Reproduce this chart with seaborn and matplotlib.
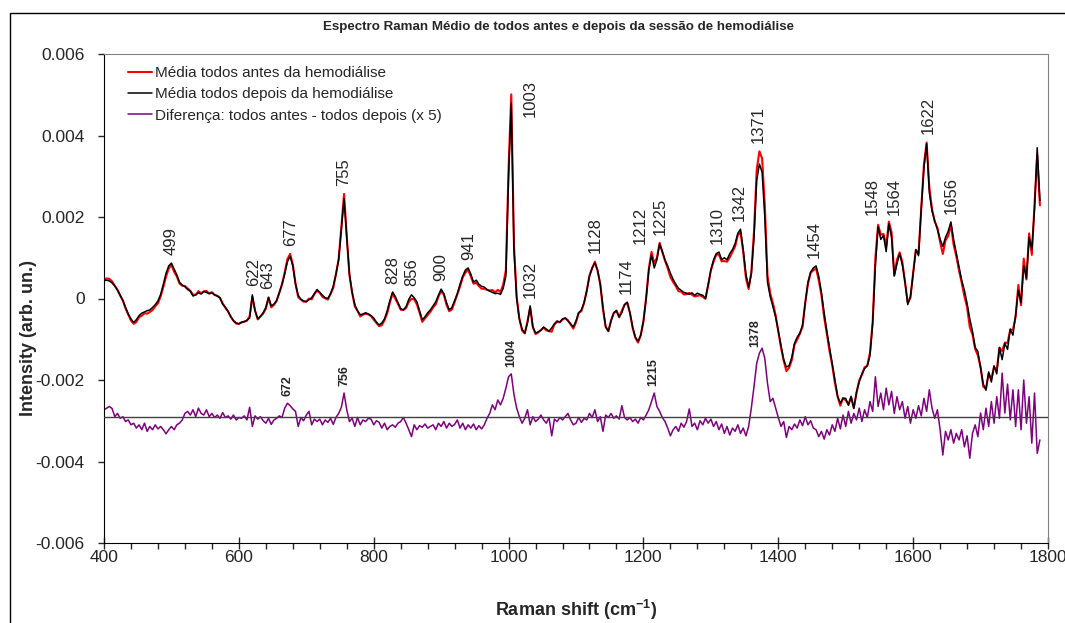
import numpy as np
import pandas as pd
import matplotlib.pyplot as plt
from matplotlib.patches import Rectangle
from matplotlib.ticker import MultipleLocator, FixedLocator, FixedFormatter
import seaborn as sns

# Deslocamento Raman (cm-1), um ponto a cada 4 cm-1
deslocamento = np.arange(400, 1789, 4)

# Espectro médio depois da hemodiálise (unidades de 1e-5)
depois = [
    44, 45, 43, 38, 31, 20, 8, -5, -22, -38, -50, -59, -52, -42, -36, -33, -30, -28, -22, -15, -6, 10, 35, 62, 80,
    87, 72, 58, 40, 33, 29, 22, 18, 6, 9, 14, 11, 17, 15, 12, 14, 9, 6, 2, -14, -22, -32, -44, -55, -60,
    -62, -58, -57, -53, -48, 9, -30, -50, -44, -35, -22, 3, -18, -14, -5, 14, 35, 60, 90, 104, 80, 35, 8, -2, -6,
    -8, -3, 2, 12, 22, 15, 8, 2, 0, 12, 30, 60, 95, 170, 245, 150, 60, 15, -15, -30, -40, -38, -35, -38, -42,
    -48, -58, -65, -60, -50, -30, -5, 16, 5, -10, -25, -28, -20, -2, 9, 2, -8, -30, -52, -45, -35, -28, -18, -8, 8,
    23, 12, -10, -28, -22, -5, 12, 35, 55, 70, 75, 60, 40, 45, 35, 30, 28, 22, 18, 15, 12, 13, 10, 25, 55,
    300, 480, 120, 0, -50, -75, -85, -60, -18, -70, -85, -82, -78, -70, -75, -80, -72, -62, -55, -58, -50, -48, -55, -62, -70,
    -55, -35, -28, -10, 20, 55, 75, 87, 70, 35, -20, -70, -80, -55, -35, -30, -45, -35, -15, -9, -35, -70, -95, -105, -90,
    -55, 0, 70, 107, 75, 95, 134, 115, 95, 80, 62, 47, 35, 25, 20, 15, 13, 10, 14, 8, 13, 10, 8, 0, 35,
    70, 95, 110, 114, 95, 100, 95, 110, 120, 135, 160, 170, 120, 60, 28, 60, 150, 290, 330, 310, 200, 40, 5, -20, -45,
    -80, -115, -150, -168, -165, -145, -110, -95, -85, -65, -10, 40, 65, 75, 80, 55, 15, -35, -80, -120, -160, -200, -240, -257, -245,
    -245, -262, -240, -270, -230, -205, -185, -172, -165, -140, -60, 80, 176, 145, 155, 115, 183, 150, 55, 85, 110, 82, 40, -15, 5,
    60, 120, 105, 220, 320, 380, 260, 215, 190, 170, 145, 128, 150, 165, 188, 145, 112, 80, 45, 20, -12, -50, -80, -120, -130,
    -170, -210, -225, -180, -205, -165, -185, -120, -150, -110, -125, -75, -90, -40, 20, -10, 80, 50, 150, 120, 220, 370, 240,
]

# Diferença (antes - depois) x 5, desenhada em torno da linha de referência (unidades de 1e-5)
diferenca = [
    -273, -269, -265, -270, -290, -282, -294, -290, -302, -298, -310, -306, -318, -310, -322, -306, -326, -314, -322, -310, -320, -314, -322, -332, -322,
    -314, -322, -310, -306, -298, -282, -277, -286, -273, -290, -269, -282, -286, -273, -290, -282, -292, -286, -294, -280, -292, -288, -296, -286, -298,
    -292, -294, -288, -298, -267, -314, -288, -296, -290, -300, -306, -294, -309, -298, -294, -288, -292, -269, -257, -263, -271, -277, -314, -292, -300,
    -286, -277, -310, -296, -302, -296, -310, -298, -304, -294, -309, -292, -282, -267, -232, -273, -302, -294, -314, -292, -310, -298, -302, -294, -296,
    -310, -300, -304, -318, -306, -322, -314, -310, -316, -306, -302, -292, -306, -322, -339, -310, -322, -312, -316, -308, -318, -314, -310, -322, -306,
    -314, -302, -318, -306, -314, -309, -298, -318, -306, -322, -310, -318, -308, -322, -312, -320, -310, -294, -282, -261, -273, -249, -261, -245, -220,
    -192, -185, -236, -269, -290, -306, -294, -273, -310, -290, -302, -296, -286, -298, -306, -292, -337, -296, -302, -292, -298, -290, -282, -298, -310,
    -306, -292, -304, -294, -298, -282, -292, -273, -302, -290, -326, -286, -292, -282, -294, -288, -296, -263, -292, -298, -292, -302, -296, -306, -292,
    -298, -286, -273, -253, -232, -265, -277, -292, -302, -318, -337, -322, -314, -326, -306, -316, -302, -271, -314, -306, -322, -300, -310, -294, -306,
    -296, -314, -302, -322, -308, -331, -314, -335, -318, -326, -310, -331, -318, -337, -314, -269, -216, -159, -134, -122, -147, -208, -253, -245, -269,
    -292, -314, -302, -341, -314, -322, -308, -318, -298, -312, -290, -310, -300, -318, -322, -339, -326, -345, -322, -335, -310, -326, -294, -320, -286,
    -314, -277, -306, -282, -298, -269, -302, -273, -292, -253, -277, -192, -265, -232, -273, -220, -261, -228, -282, -241, -273, -253, -294, -265, -306,
    -273, -294, -263, -288, -245, -277, -224, -269, -294, -273, -322, -384, -326, -347, -322, -355, -331, -347, -322, -364, -337, -392, -331, -310, -339,
    -281, -322, -269, -314, -253, -306, -241, -294, -183, -281, -210, -298, -224, -314, -224, -322, -200, -306, -241, -355, -232, -380, -347,
]

linha_base = -290  # zero da curva de diferença (unidades de 1e-5)

picos = [499, 622, 643, 677, 755, 828, 856, 900, 941, 1003, 1032, 1128, 1174,
         1212, 1225, 1310, 1342, 1371, 1454, 1548, 1564, 1622, 1656]
picos_dif = [672, 756, 1004, 1215, 1378]

depois = np.array(depois) * 1e-5
diferenca = np.array(diferenca) * 1e-5
base = linha_base * 1e-5
# a diferença vale (antes - depois) x 5, logo o espectro "antes" sai dela
antes = depois + (diferenca - base) / 5

df = pd.DataFrame({"shift": deslocamento, "antes": antes,
                   "depois": depois, "diferenca": diferenca})

sns.set_style("white")
plt.rcParams["font.family"] = ["Liberation Sans", "DejaVu Sans"]
plt.rcParams["mathtext.fontset"] = "custom"
plt.rcParams["mathtext.rm"] = "Liberation Sans"
plt.rcParams["mathtext.bf"] = "Liberation Sans:bold"

fig = plt.figure(figsize=(10.65, 6.23), dpi=100)
ax = fig.add_axes([104 / 1065, 1 - 543 / 623, 944 / 1065, 489 / 623])

sns.lineplot(data=df, x="shift", y="antes", ax=ax, color="#FF0000", lw=1.5,
             estimator=None, label="Média todos antes da hemodiálise")
sns.lineplot(data=df, x="shift", y="depois", ax=ax, color="black", lw=1.1,
             estimator=None, label="Média todos depois da hemodiálise")
sns.lineplot(data=df, x="shift", y="diferenca", ax=ax, color="#800080", lw=1.1,
             estimator=None, label="Diferença: todos antes - todos depois (x 5)")
ax.axhline(base, color="#404040", lw=1.0, zorder=4)

ax.set_xlim(400, 1800)
ax.set_ylim(-0.006, 0.006)
ax.xaxis.set_major_locator(MultipleLocator(200))
ax.xaxis.set_minor_locator(MultipleLocator(40))
yt = [-0.006, -0.004, -0.002, 0, 0.002, 0.004, 0.006]
ax.yaxis.set_major_locator(FixedLocator(yt))
ax.yaxis.set_major_formatter(FixedFormatter(["-0.006", "-0.004", "-0.002", "0",
                                             "0.002", "0.004", "0.006"]))
ax.tick_params(axis="x", which="major", direction="inout", length=8, width=1,
               labelsize=12.5, pad=1)
ax.tick_params(axis="x", which="minor", direction="out", length=4, width=1)
ax.tick_params(axis="y", which="major", direction="out", length=4, width=1,
               labelsize=12.5, pad=10)
ax.tick_params(bottom=True, left=True, which="both")

for s in ["left", "bottom"]:
    ax.spines[s].set_color("black")
for s in ["top", "right"]:
    ax.spines[s].set_color("#808080")

ax.set_xlabel("Raman shift (cm$^{\\mathbf{-1}}$)", fontsize=13, fontweight="bold")
ax.xaxis.set_label_coords(0.5, -0.112)
ax.set_ylabel("Intensity (arb. un.)", fontsize=13, fontweight="bold")
ax.yaxis.set_label_coords(-0.071, 0.42)

fig.text(0.524, 0.957, "Espectro Raman Médio de todos antes e depois da sessão de hemodiálise",
         ha="center", va="center", fontsize=9.6, fontweight="bold")

ax.legend(loc="upper left", bbox_to_anchor=(0.0254, 0.975), frameon=False,
          fontsize=11, handlelength=1.57, handletextpad=0.2, labelspacing=0.47,
          borderpad=0, borderaxespad=0)

# rótulos dos picos
topo = np.maximum(antes, depois)
desvio = {1003: (14, -16), 1212: (-8, 6), 1548: (-4, 7), 1564: (4, 5)}
for p in picos:
    sel = np.abs(deslocamento - p) <= 5
    dx, dy = desvio.get(p, (0, 6))
    ax.annotate(str(p), xy=(p, topo[sel].max()), xytext=(dx, dy),
                textcoords="offset points", rotation=90, ha="center",
                va="bottom", fontsize=12)

desvio_dif = {1378: (-6, 1)}
for p in picos_dif:
    sel = np.abs(deslocamento - p) <= 5
    dx, dy = desvio_dif.get(p, (0, 5))
    ax.annotate(str(p), xy=(p, diferenca[sel].max()), xytext=(dx, dy),
                textcoords="offset points", rotation=90, ha="center",
                va="bottom", fontsize=9, fontweight="bold")

# moldura da área do gráfico
fig.patches.append(Rectangle((10 / 1065, -0.1), 1.2, 1 - 13 / 623 + 0.1,
                             transform=fig.transFigure, fill=False,
                             edgecolor="black", lw=1.0))

plt.savefig("out.png", dpi=100)
